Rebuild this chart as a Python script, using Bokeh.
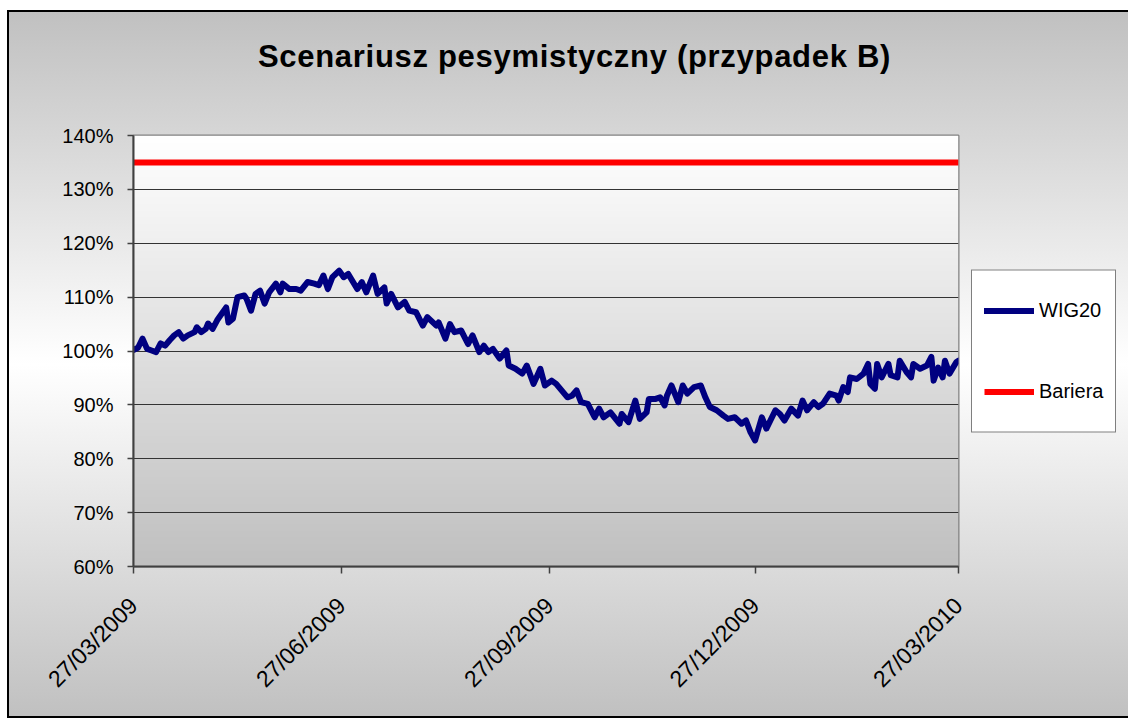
import numpy as np
import pandas as pd
from math import pi
from bokeh.plotting import figure
from bokeh.layouts import column
from bokeh.models import (Range1d, FixedTicker, DatetimeTickFormatter, Div,
                          PrintfTickFormatter, Legend, LegendItem)
from bokeh.embed import file_html
from bokeh.resources import INLINE

# ---------------- data ----------------
title_text = "Scenariusz pesymistyczny (przypadek B)"
series_names = ["WIG20", "Bariera"]
start_date = "2009-03-27"
end_date = "2010-03-27"

# day offsets (days after start_date) and WIG20 level in % of start
day_offset = [0, 2, 4, 6, 8, 10, 12, 14, 16, 18, 20, 22, 24, 27, 28, 30, 32, 33, 35, 37,
              38, 41, 42, 44, 46, 49, 50, 52, 54, 56, 58, 60, 63, 65, 66, 69, 72, 74, 77, 80,
              82, 84, 86, 88, 91, 93, 95, 99, 101, 103, 106, 108, 111, 112, 114, 117, 120, 122, 125, 128,
              130, 134, 135, 138, 140, 142, 145, 148, 150, 153, 155, 157, 159, 162, 165, 166, 169, 172, 174, 177,
              180, 182, 185, 187, 192, 194, 196, 198, 201, 204, 206, 208, 211, 215, 216, 219, 222, 224, 227, 228,
              231, 233, 235, 236, 238, 241, 243, 245, 248, 251, 253, 255, 258, 261, 263, 266, 269, 271, 273, 275,
              278, 280, 284, 286, 288, 291, 294, 296, 298, 301, 303, 305, 308, 311, 312, 314, 316, 317, 320, 323,
              325, 326, 328, 329, 331, 334, 335, 338, 339, 342, 344, 345, 348, 351, 353, 354, 356, 358, 359, 361,
              364, 365]
wig20 = [100.2, 100.6, 102.3, 100.4, 100.1, 99.8, 101.4, 101.0, 102.0, 102.9, 103.5, 102.3, 102.9, 103.5, 104.4, 103.5, 104.1, 105.1, 104.1, 105.7,
         106.3, 108.1, 105.3, 106.0, 110.0, 110.3, 109.7, 107.5, 110.6, 111.2, 108.8, 110.9, 112.5, 110.9, 112.5, 111.5, 111.5, 111.2, 112.8, 112.5,
         112.2, 114.0, 111.5, 113.7, 114.9, 113.7, 114.3, 111.5, 112.8, 110.9, 114.0, 110.6, 111.8, 108.8, 110.6, 108.1, 109.1, 107.5, 107.2, 104.7,
         106.3, 104.7, 105.3, 102.3, 105.0, 103.5, 103.8, 101.3, 102.9, 99.8, 101.0, 99.8, 100.4, 98.6, 100.1, 97.3, 96.7, 95.8, 97.3, 93.9,
         96.7, 93.6, 94.5, 93.9, 91.4, 91.7, 92.7, 90.5, 90.2, 87.7, 89.3, 87.7, 88.6, 86.5, 88.3, 86.8, 90.8, 87.4, 88.6, 91.1,
         91.1, 91.4, 89.9, 91.7, 93.6, 90.5, 93.6, 92.1, 93.3, 93.6, 91.4, 89.6, 89.0, 88.0, 87.4, 87.7, 86.5, 87.1, 84.9, 83.4,
         87.7, 85.6, 89.0, 88.3, 87.1, 89.3, 88.0, 90.8, 89.0, 90.5, 89.6, 90.2, 92.1, 91.7, 90.8, 93.3, 92.4, 95.1, 94.8, 95.8,
         97.6, 93.9, 93.0, 97.6, 95.1, 97.6, 95.5, 95.1, 98.2, 96.1, 95.1, 97.6, 96.7, 97.3, 98.9, 94.5, 96.9, 95.1, 98.2, 95.8,
         97.9, 98.2]

barrier_dates = ["2009-03-27", "2010-03-27"]
barrier = [135, 135]

tick_dates = ["2009-03-27", "2009-06-27", "2009-09-27", "2009-12-27", "2010-03-27"]
y_ticks = [60, 70, 80, 90, 100, 110, 120, 130, 140]

# ---------------- build ----------------
def ms(d):
    return pd.Timestamp(d).value / 1e6

dates = pd.Timestamp(start_date) + pd.to_timedelta(day_offset, unit="D")
b_dates = pd.to_datetime(barrier_dates)

x0, x1 = ms(start_date), ms(end_date)
FONT = "Liberation Sans"

title_div = Div(text=title_text, width=1121, height=90, margin=0,
                styles={"font-family": FONT, "font-size": "31px", "font-weight": "bold",
                        "letter-spacing": "0.7px", "text-align": "center",
                        "text-indent": "14px", "line-height": "94px", "color": "#000000",
                        "white-space": "nowrap"})

p = figure(frame_width=825, frame_height=431, output_backend="svg", toolbar_location=None,
           x_axis_type="datetime",
           x_range=Range1d(x0, x1), y_range=Range1d(60, 140),
           min_border_left=126, min_border_right=170,
           min_border_top=35, min_border_bottom=152, margin=0)

p.border_fill_alpha = 0
p.background_fill_alpha = 0
p.outline_line_color = "#808080"
p.outline_line_width = 2

# plot-area gradient (white at top -> grey at bottom)
N = 256
img = np.empty((N, 1), dtype=np.uint32)
view = img.view(dtype=np.uint8).reshape((N, 1, 4))
g = np.linspace(192, 255, N).astype(np.uint8)
view[:, 0, 0] = g
view[:, 0, 1] = g
view[:, 0, 2] = g
view[:, 0, 3] = 255
p.image_rgba(image=[img], x=x0, y=60, dw=x1 - x0, dh=80, level="image")

r_wig = p.line(dates, wig20, line_color="#000080", line_width=6,
               line_cap="round", line_join="round")
r_bar = p.line(b_dates, barrier, line_color="#FF0000", line_width=6)

# axes
for ax in (p.xaxis[0], p.yaxis[0]):
    ax.axis_line_color = "#404040"
    ax.axis_line_width = 2
    ax.major_tick_line_color = "#404040"
    ax.major_tick_line_width = 1.5
    ax.major_tick_in = 0
    ax.minor_tick_line_color = None
    ax.major_label_text_font = FONT
    ax.major_label_text_color = "#000000"

p.yaxis.ticker = FixedTicker(ticks=y_ticks)
p.yaxis.formatter = PrintfTickFormatter(format="%d%%")
p.yaxis.major_tick_out = 6
p.yaxis.major_label_standoff = 14
p.yaxis.major_label_text_font_size = "20px"

p.xaxis.ticker = FixedTicker(ticks=[ms(d) for d in tick_dates])
fmt = "%d/%m/%Y"
p.xaxis.formatter = DatetimeTickFormatter(milliseconds=fmt, seconds=fmt, minsec=fmt, minutes=fmt,
                                          hourmin=fmt, hours=fmt, days=fmt, months=fmt, years=fmt)
p.xaxis.major_tick_out = 7
p.xaxis.major_label_standoff = 28
p.xaxis.major_label_orientation = pi / 4
p.xaxis.major_label_text_font_size = "23px"

p.xgrid.grid_line_color = None
p.ygrid.ticker = FixedTicker(ticks=y_ticks)
p.ygrid.grid_line_color = "#333333"
p.ygrid.grid_line_width = 1.2

legend = Legend(items=[LegendItem(label=series_names[0], renderers=[r_wig]),
                       LegendItem(label=series_names[1], renderers=[r_bar])],
                location="center_left")
legend.label_text_font = FONT
legend.label_text_font_size = "20px"
legend.label_text_color = "#000000"
legend.glyph_width = 50
legend.glyph_height = 56
legend.label_height = 56
legend.label_standoff = 5
legend.padding = 12
legend.spacing = 25
legend.margin = 13
legend.border_line_color = "#000000"
legend.border_line_width = 1
legend.background_fill_color = "#FFFFFF"
legend.background_fill_alpha = 1
p.add_layout(legend, "right")

layout = column(title_div, p, spacing=0,
                styles={
                    "margin-left": "7px",
                    "margin-top": "10px",
                    "background-image": "linear-gradient(180deg, #c0c0c0 0%, #ffffff 50%, #c0c0c0 100%)",
                    "box-shadow": "inset 2px 0 0 #000000, inset 0 2px 0 #000000, inset 0 -2px 0 #000000",
                })

open("out.html", "w").write(file_html(layout, INLINE))
